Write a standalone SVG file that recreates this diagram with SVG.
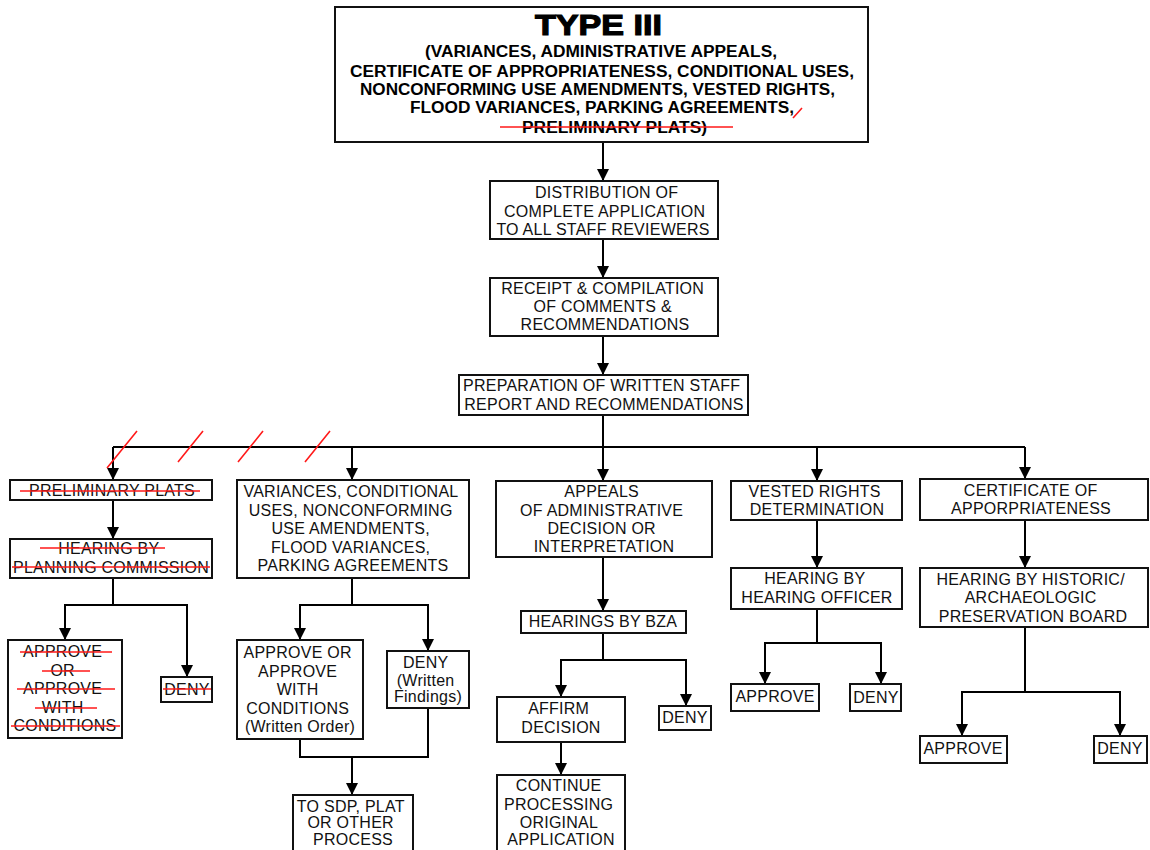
<svg xmlns="http://www.w3.org/2000/svg" width="1150" height="850" viewBox="0 0 1150 850">
  <defs>
    <marker id="head" markerUnits="userSpaceOnUse" markerWidth="12" markerHeight="13" refX="12" refY="6" orient="auto" viewBox="0 0 12 12">
      <path d="M0,0 L12,6 L0,12 Z" fill="#000"/>
    </marker>
    <style>
      .box { fill: #fff; stroke: #111; stroke-width: 2; }
      .t { font-family: "Liberation Sans", Arial, Helvetica, sans-serif; font-size: 16px; letter-spacing: 0.25px; text-anchor: middle; fill: #111; }
      .tb { font-family: "Liberation Sans", Arial, Helvetica, sans-serif; font-size: 16px; font-weight: bold; text-anchor: middle; fill: #000; }
      .title { font-family: "Liberation Sans", Arial, Helvetica, sans-serif; font-size: 30px; font-weight: 900; text-anchor: middle; fill: #000; stroke: #000; stroke-width: 1.2px; }
      .conn { fill: none; stroke: #000; stroke-width: 2; }
      .arr { marker-end: url(#head); }
      .strike { fill: none; stroke: #ff1a1a; stroke-width: 1.6; }
    </style>
  </defs>

  <!-- connectors -->
  <g id="connectors">
    <path class="conn arr" d="M603,142 V181"/>
    <path class="conn arr" d="M603,239 V278"/>
    <path class="conn arr" d="M603,336 V375"/>
    <path class="conn arr" d="M603,415 V481"/>
    <path class="conn" d="M113,447 H1025"/>
    <path class="conn arr" d="M113,447 V480"/>
    <path class="conn arr" d="M352,447 V480"/>
    <path class="conn arr" d="M817,447 V481"/>
    <path class="conn arr" d="M1025,447 V479"/>

    <!-- preliminary plats branch -->
    <path class="conn arr" d="M113,500 V539"/>
    <path class="conn" d="M113,578 V605 M65,605 H187"/>
    <path class="conn arr" d="M65,604 V640"/>
    <path class="conn arr" d="M187,604 V677"/>

    <!-- variances branch -->
    <path class="conn" d="M352,578 V605 M300,605 H428"/>
    <path class="conn arr" d="M300,604 V640"/>
    <path class="conn arr" d="M428,604 V651"/>
    <path class="conn" d="M300,739 V757 H428 V708"/>
    <path class="conn arr" d="M352,757 V795"/>

    <!-- appeals branch -->
    <path class="conn arr" d="M603,557 V611"/>
    <path class="conn" d="M603,633 V660 M561,660 H686"/>
    <path class="conn arr" d="M561,659 V697"/>
    <path class="conn arr" d="M686,659 V706"/>
    <path class="conn arr" d="M561,742 V775"/>

    <!-- vested rights branch -->
    <path class="conn arr" d="M817,520 V568"/>
    <path class="conn" d="M817,609 V643 M765,643 H881"/>
    <path class="conn arr" d="M765,642 V684"/>
    <path class="conn arr" d="M881,642 V684"/>

    <!-- certificate branch -->
    <path class="conn arr" d="M1025,520 V568"/>
    <path class="conn" d="M1025,627 V692 M962,692 H1120"/>
    <path class="conn arr" d="M962,691 V736"/>
    <path class="conn arr" d="M1120,691 V736"/>

    <!-- hand edits on the bus -->
    <path class="strike" d="M107,468 L137,431 M178,462 L203,431 M238,462 L263,431 M305,462 L330,431"/>
  </g>

  <g id="type-iii">
    <rect class="box" x="335" y="7" width="533" height="135"/>
    <text class="title" x="598.5" y="35" textLength="127" lengthAdjust="spacingAndGlyphs">TYPE III</text>
    <text class="tb" x="601" y="57" textLength="352" lengthAdjust="spacingAndGlyphs">(VARIANCES, ADMINISTRATIVE APPEALS,</text>
    <text class="tb" x="602" y="77" textLength="504" lengthAdjust="spacingAndGlyphs">CERTIFICATE OF APPROPRIATENESS, CONDITIONAL USES,</text>
    <text class="tb" x="597.5" y="95" textLength="475" lengthAdjust="spacingAndGlyphs">NONCONFORMING USE AMENDMENTS, VESTED RIGHTS,</text>
    <text class="tb" x="602" y="113" textLength="384" lengthAdjust="spacingAndGlyphs">FLOOD VARIANCES, PARKING AGREEMENTS,</text>
    <text class="tb" x="614.5" y="133" textLength="185" lengthAdjust="spacingAndGlyphs">PRELIMINARY PLATS)</text>
    <path class="strike" d="M500,127 H733 M793,118 L802,108"/>
  </g>

  <g id="distribution">
    <rect class="box" x="490" y="181" width="228" height="58"/>
    <text class="t">
      <tspan x="609" y="198">DISTRIBUTION OF</tspan>
      <tspan x="607" y="217">COMPLETE APPLICATION</tspan>
      <tspan x="603" y="235">TO ALL STAFF REVIEWERS</tspan>
    </text>
  </g>

  <g id="receipt">
    <rect class="box" x="490" y="278" width="228" height="58"/>
    <text class="t">
      <tspan x="605" y="294">RECEIPT &amp; COMPILATION</tspan>
      <tspan x="605" y="312">OF COMMENTS &amp;</tspan>
      <tspan x="605" y="330">RECOMMENDATIONS</tspan>
    </text>
  </g>

  <g id="preparation">
    <rect class="box" x="459" y="375" width="289" height="40"/>
    <text class="t">
      <tspan x="604" y="391">PREPARATION OF WRITTEN STAFF</tspan>
      <tspan x="604" y="410">REPORT AND RECOMMENDATIONS</tspan>
    </text>
  </g>

  <!-- struck-out preliminary plats column -->
  <g id="preliminary-plats">
    <rect class="box" x="10" y="480" width="202" height="20"/>
    <text class="t" x="112" y="496">PRELIMINARY PLATS</text>
    <path class="strike" d="M20,491 H200"/>
  </g>

  <g id="hearing-planning">
    <rect class="box" x="10" y="539" width="202" height="39"/>
    <text class="t">
      <tspan x="111" y="554">HEARING BY</tspan>
      <tspan x="111" y="573">PLANNING COMMISSION</tspan>
    </text>
    <path class="strike" d="M40,548 H165 M12,567 H210"/>
  </g>

  <g id="approve-planning">
    <rect class="box" x="8" y="640" width="114" height="98"/>
    <text class="t">
      <tspan x="65" y="657">APPROVE</tspan>
      <tspan x="65" y="676">OR</tspan>
      <tspan x="65" y="694">APPROVE</tspan>
      <tspan x="65" y="713">WITH</tspan>
      <tspan x="65" y="731">CONDITIONS</tspan>
    </text>
    <path class="strike" d="M20,652 H112 M42,671 H90 M17,689 H115 M35,708 H97 M11,726 H120"/>
  </g>

  <g id="deny-planning">
    <rect class="box" x="161" y="677" width="51" height="25"/>
    <text class="t" x="187" y="695">DENY</text>
    <path class="strike" d="M163,689 H211"/>
  </g>

  <!-- variances column -->
  <g id="variances">
    <rect class="box" x="237" y="480" width="232" height="98"/>
    <text class="t">
      <tspan x="353" y="497">VARIANCES, CONDITIONAL</tspan>
      <tspan x="353" y="516">USES, NONCONFORMING</tspan>
      <tspan x="353" y="534">USE AMENDMENTS,</tspan>
      <tspan x="353" y="553">FLOOD VARIANCES,</tspan>
      <tspan x="353" y="571">PARKING AGREEMENTS</tspan>
    </text>
  </g>

  <g id="approve-variances">
    <rect class="box" x="237" y="640" width="126" height="99"/>
    <text class="t">
      <tspan x="300" y="658">APPROVE OR</tspan>
      <tspan x="300" y="677">APPROVE</tspan>
      <tspan x="300" y="695">WITH</tspan>
      <tspan x="300" y="714">CONDITIONS</tspan>
      <tspan x="300" y="732">(Written Order)</tspan>
    </text>
  </g>

  <g id="deny-variances">
    <rect class="box" x="387" y="651" width="82" height="57"/>
    <text class="t">
      <tspan x="428" y="668">DENY</tspan>
      <tspan x="428" y="686">(Written</tspan>
      <tspan x="428" y="702">Findings)</tspan>
    </text>
  </g>

  <g id="to-sdp">
    <rect class="box" x="293" y="795" width="120" height="62"/>
    <text class="t">
      <tspan x="353" y="812">TO SDP, PLAT</tspan>
      <tspan x="353" y="828">OR OTHER</tspan>
      <tspan x="353" y="845">PROCESS</tspan>
    </text>
  </g>

  <!-- appeals column -->
  <g id="appeals">
    <rect class="box" x="496" y="481" width="216" height="76"/>
    <text class="t">
      <tspan x="604" y="497">APPEALS</tspan>
      <tspan x="604" y="516">OF ADMINISTRATIVE</tspan>
      <tspan x="604" y="534">DECISION OR</tspan>
      <tspan x="604" y="552">INTERPRETATION</tspan>
    </text>
  </g>

  <g id="hearings-bza">
    <rect class="box" x="521" y="611" width="165" height="22"/>
    <text class="t" x="603" y="627">HEARINGS BY BZA</text>
  </g>

  <g id="affirm">
    <rect class="box" x="497" y="697" width="128" height="45"/>
    <text class="t">
      <tspan x="561" y="714">AFFIRM</tspan>
      <tspan x="561" y="733">DECISION</tspan>
    </text>
  </g>

  <g id="deny-bza">
    <rect class="box" x="659" y="706" width="52" height="24"/>
    <text class="t" x="685" y="723">DENY</text>
  </g>

  <g id="continue">
    <rect class="box" x="497" y="775" width="128" height="82"/>
    <text class="t">
      <tspan x="561" y="791">CONTINUE</tspan>
      <tspan x="561" y="810">PROCESSING</tspan>
      <tspan x="561" y="828">ORIGINAL</tspan>
      <tspan x="561" y="845">APPLICATION</tspan>
    </text>
  </g>

  <!-- vested rights column -->
  <g id="vested-rights">
    <rect class="box" x="731" y="481" width="171" height="39"/>
    <text class="t">
      <tspan x="817" y="497">VESTED RIGHTS</tspan>
      <tspan x="817" y="515">DETERMINATION</tspan>
    </text>
  </g>

  <g id="hearing-officer">
    <rect class="box" x="731" y="568" width="171" height="41"/>
    <text class="t">
      <tspan x="817" y="584">HEARING BY</tspan>
      <tspan x="817" y="603">HEARING OFFICER</tspan>
    </text>
  </g>

  <g id="approve-officer">
    <rect class="box" x="731" y="684" width="88" height="27"/>
    <text class="t" x="775" y="702">APPROVE</text>
  </g>

  <g id="deny-officer">
    <rect class="box" x="850" y="684" width="51" height="27"/>
    <text class="t" x="876" y="703">DENY</text>
  </g>

  <!-- certificate column -->
  <g id="certificate">
    <rect class="box" x="920" y="479" width="228" height="41"/>
    <text class="t">
      <tspan x="1033" y="496">CERTIFICATE OF</tspan>
      <tspan x="1031" y="514">APPORPRIATENESS</tspan>
    </text>
  </g>

  <g id="hearing-board">
    <rect class="box" x="920" y="568" width="228" height="59"/>
    <text class="t">
      <tspan x="1033" y="585">HEARING BY HISTORIC/</tspan>
      <tspan x="1033" y="603">ARCHAEOLOGIC</tspan>
      <tspan x="1033" y="622">PRESERVATION BOARD</tspan>
    </text>
  </g>

  <g id="approve-board">
    <rect class="box" x="920" y="736" width="87" height="27"/>
    <text class="t" x="963" y="754">APPROVE</text>
  </g>

  <g id="deny-board">
    <rect class="box" x="1094" y="736" width="53" height="27"/>
    <text class="t" x="1120" y="754">DENY</text>
  </g>
</svg>
